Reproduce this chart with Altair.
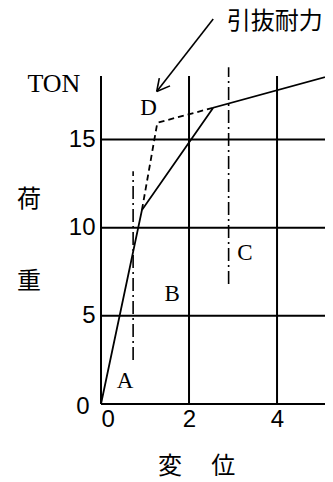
import altair as alt
import pandas as pd

# axis ticks and extents
x_ticks = [0, 2, 4]
y_ticks = [0, 5, 10, 15]
x_max = 5.09
y_max = 18.6

# load-displacement curve (solid)
solid_x = [0, 0.93, 2.55, 5.4]
solid_y = [0, 11.0, 16.8, 18.75]
# dashed branch
dashed_x = [0.93, 1.28, 2.55]
dashed_y = [11.0, 15.95, 16.8]
# dash-dot verticals
dd_x = [0.73, 2.90]
dd_lo = [2.5, 6.8]
dd_hi = [13.2, 19.1]
# point labels
letters = ["A", "B", "C", "D"]
letter_x = [0.545, 1.62, 3.27, 1.08]
letter_y = [1.29, 6.26, 8.57, 16.77]
# leader arrow segments (x, y, x2, y2)
arr_x = [2.55, 1.266, 1.266]
arr_y = [21.83, 17.72, 17.72]
arr_x2 = [1.266, 1.325, 1.568]
arr_y2 = [17.72, 18.48, 18.04]
# CJK annotations / axis titles
cjk_text = ["荷", "重", "変", "位"]
cjk_x = [-1.636, -1.636, 1.568, 2.78]
cjk_y = [11.56, 6.92, -3.55, -3.55]
callout_text = ["引抜耐力"]
callout_x = [3.95]
callout_y = [21.65]
unit_text = ["TON"]
unit_x = [-1.07]
unit_y = [18.17]

xs = alt.Scale(domain=[0, x_max], nice=False, zero=False)
ys = alt.Scale(domain=[0, y_max], nice=False, zero=False)

hgrid = pd.DataFrame({"y": y_ticks, "x": [0] * len(y_ticks), "x2": [x_max] * len(y_ticks)})
vgrid = pd.DataFrame({"x": x_ticks, "y": [0] * len(x_ticks), "y2": [y_max] * len(x_ticks)})

h = alt.Chart(hgrid).mark_rule(color="black", strokeWidth=2).encode(
    x=alt.X("x:Q", scale=xs, axis=alt.Axis(values=x_ticks, title=None, labelPadding=3)),
    x2="x2",
    y=alt.Y("y:Q", scale=ys, axis=alt.Axis(
        values=y_ticks, title=None,
        labelPadding={"condition": {"test": "datum.value === 0", "value": 12}, "value": 6},
        labelOffset={"condition": {"test": "datum.value === 0", "value": 2}, "value": 0},
    )),
)
v = alt.Chart(vgrid).mark_rule(color="black", strokeWidth=2).encode(
    x=alt.X("x:Q", scale=xs), y=alt.Y("y:Q", scale=ys), y2="y2"
)

solid = alt.Chart(pd.DataFrame({"x": solid_x, "y": solid_y, "o": range(len(solid_x))})).mark_line(
    color="black", strokeWidth=1.8
).encode(x=alt.X("x:Q", scale=xs), y=alt.Y("y:Q", scale=ys), order="o")

dashed = alt.Chart(pd.DataFrame({"x": dashed_x, "y": dashed_y, "o": range(len(dashed_x))})).mark_line(
    color="black", strokeWidth=1.8, strokeDash=[6, 4]
).encode(x=alt.X("x:Q", scale=xs), y=alt.Y("y:Q", scale=ys), order="o")

dd = alt.Chart(pd.DataFrame({"x": dd_x, "y": dd_lo, "y2": dd_hi})).mark_rule(
    color="black", strokeWidth=1.6, strokeDash=[13, 4, 2, 4]
).encode(x=alt.X("x:Q", scale=xs), y=alt.Y("y:Q", scale=ys), y2="y2")

arrow = alt.Chart(pd.DataFrame({"x": arr_x, "y": arr_y, "x2": arr_x2, "y2": arr_y2})).mark_rule(
    color="black", strokeWidth=1.6
).encode(x=alt.X("x:Q", scale=xs), y=alt.Y("y:Q", scale=ys), x2="x2", y2="y2")

lab = alt.Chart(pd.DataFrame({"x": letter_x, "y": letter_y, "t": letters})).mark_text(
    font="Liberation Serif", fontSize=23, color="black", baseline="middle", align="center"
).encode(x=alt.X("x:Q", scale=xs), y=alt.Y("y:Q", scale=ys), text="t")

unit = alt.Chart(pd.DataFrame({"x": unit_x, "y": unit_y, "t": unit_text})).mark_text(
    font="Liberation Serif", fontSize=26, color="black", baseline="middle", align="center"
).encode(x=alt.X("x:Q", scale=xs), y=alt.Y("y:Q", scale=ys), text="t")

cjk = alt.Chart(pd.DataFrame({"x": cjk_x, "y": cjk_y, "t": cjk_text})).mark_text(
    font="Noto Sans CJK JP", fontSize=24, color="black", baseline="middle", align="center"
).encode(x=alt.X("x:Q", scale=xs), y=alt.Y("y:Q", scale=ys), text="t")

callout = alt.Chart(pd.DataFrame({"x": callout_x, "y": callout_y, "t": callout_text})).mark_text(
    font="Noto Sans CJK JP", fontSize=24, color="black", baseline="middle", align="center"
).encode(x=alt.X("x:Q", scale=xs), y=alt.Y("y:Q", scale=ys), text="t")

chart = alt.layer(h, v, solid, dashed, dd, arrow, lab, unit, cjk, callout).properties(
    width=224, height=328,
    autosize=alt.AutoSizeParams(type="none"),
    padding={"left": 93, "top": 68, "right": 0, "bottom": 74},
).configure_axis(
    grid=False, domain=False, ticks=False,
    labelFont="Liberation Sans", labelFontSize=24, labelColor="black",
).configure_view(strokeWidth=0)

chart.save("out.html", embed_options={"renderer": "svg", "actions": False})
